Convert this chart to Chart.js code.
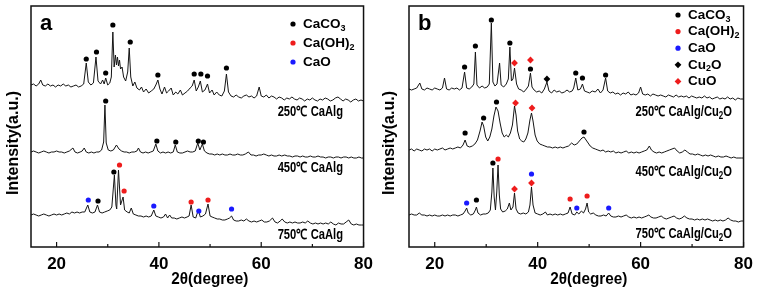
<!DOCTYPE html>
<html>
<head>
<meta charset="utf-8">
<script src="https://cdn.jsdelivr.net/npm/chart.js@4"></script>
<style>
  body { margin: 0; background: #fff; }
  #wrap { position: relative; width: 760px; height: 292px; }
  .panel { position: absolute; top: 0; width: 380px; height: 292px; }
</style>
</head>
<body>
<div id="wrap">
  <div class="panel" style="left:0"><canvas id="chartA" width="380" height="292"></canvas></div>
  <div class="panel" style="left:380px"><canvas id="chartB" width="380" height="292"></canvas></div>
</div>
<script>
// x axis ticks (2θ)
const xTicks = [20, 40, 60, 80];
const xMinorTicks = [30, 50, 70];

// panel a: CaAlg patterns, [2θ, intensity (stacked, a.u.)]
const a250 = [[15,162],[15.5,163],[16,161],[16.5,163],[16.9,167],[17.3,162],[17.8,161],[18.3,163],[18.8,161],[19.3,162],[19.8,160],[20.3,162],[20.8,161],[21.3,163],[21.8,161],[22.3,162],[22.8,160],[23.3,161],[23.8,162],[24.3,160],[24.8,161],[25.3,163],[25.8,184],[26.2,165],[26.7,162],[27.2,164],[27.7,190],[28.1,166],[28.6,163],[29.0,167],[29.3,163],[29.6,169],[30.0,162],[30.4,164],[30.7,170],[31.0,215],[31.25,180],[31.5,192],[31.7,182],[31.9,190],[32.1,181],[32.3,187],[32.5,178],[32.8,180],[33.1,170],[33.5,166],[33.9,175],[34.2,199],[34.5,170],[34.9,161],[35.3,165],[35.7,159],[36.2,157],[36.6,160],[37.0,155],[37.5,158],[38.0,154],[38.5,156],[39.0,158],[39.4,162],[39.8,167],[40.2,158],[40.6,153],[41.1,160],[41.5,154],[41.9,156],[42.4,159],[42.8,152],[43.3,155],[43.7,153],[44.2,157],[44.6,152],[45.1,154],[45.6,156],[46.1,159],[46.5,161],[46.9,167],[47.3,156],[47.7,160],[48.1,166],[48.5,155],[49.0,157],[49.5,163],[49.9,154],[50.4,157],[50.8,152],[51.3,155],[51.8,152],[52.3,151],[52.8,156],[53.2,173],[53.6,155],[54.1,151],[54.6,150],[55.1,152],[55.6,150],[56.1,149],[56.6,151],[57.1,152],[57.6,150],[58.1,151],[58.6,149],[59.1,151],[59.6,160],[60.0,151],[60.5,150],[61.0,152],[61.5,149],[62.0,151],[62.5,150],[63.0,148],[63.5,150],[64.0,149],[64.5,147],[65.0,149],[65.5,148],[66.0,150],[66.5,148],[67.0,147],[67.5,149],[68.0,148],[68.5,146],[69.0,148],[69.5,147],[70.0,149],[70.5,147],[71.0,146],[71.5,148],[72.0,147],[72.5,149],[73.0,148],[73.5,146],[74.0,147],[74.5,149],[75.0,150],[75.5,148],[76.0,146],[76.5,148],[77.0,147],[77.5,145],[78.0,147],[78.5,148],[79.0,146],[79.5,147],[80.0,146]];
const a450 = [[15,95],[15.5,96],[16,95],[16.5,94],[17,95],[17.5,96],[18,95],[18.5,94],[19,95],[19.5,95],[20,96],[20.5,95],[21,95],[21.5,94],[22,95],[22.5,96],[23.2,99],[23.6,95],[24.1,94],[24.6,95],[25.0,96],[25.4,99],[25.8,95],[26.3,94],[26.8,95],[27.3,94],[27.8,95],[28.3,95],[28.8,97],[29.2,105],[29.45,142],[29.7,104],[30.1,97],[30.6,96],[31.1,97],[31.7,102],[32.2,98],[32.7,96],[33.2,95],[33.7,95],[34.2,94],[34.7,95],[35.2,95],[35.7,96],[36.0,99],[36.4,95],[36.9,94],[37.4,95],[37.9,94],[38.4,95],[38.9,96],[39.4,103],[39.8,96],[40.3,94],[40.8,95],[41.3,94],[41.8,95],[42.3,94],[42.8,95],[43.2,102],[43.6,95],[44.1,94],[44.6,94],[45.1,95],[45.6,96],[46.1,95],[46.6,95],[47.1,96],[47.6,104],[48.0,97],[48.5,103],[48.9,96],[49.4,94],[49.9,93],[50.4,93],[50.9,92],[51.4,93],[51.9,92],[52.4,93],[52.9,92],[53.4,92],[53.9,93],[54.4,92],[54.9,92],[55.4,93],[55.9,92],[56.4,92],[56.9,93],[57.5,95],[58.0,92],[58.5,92],[59.0,91],[59.5,92],[60.0,92],[60.5,93],[61.0,92],[61.5,91],[62.0,92],[62.5,91],[63.0,91],[63.5,92],[64.0,91],[64.6,92],[65.1,91],[65.6,91],[66.1,90],[66.6,91],[67.1,91],[67.6,90],[68.1,91],[68.6,90],[69.1,90],[69.6,91],[70.1,90],[70.6,90],[71.1,91],[71.6,90],[72.1,90],[72.6,89],[73.1,90],[73.6,90],[74.1,89],[74.6,90],[75.1,90],[75.6,89],[76.1,90],[76.6,90],[77.1,89],[77.6,90],[78.1,89],[78.6,89],[79.1,90],[79.6,89],[80,89]];
const a750 = [[15,32],[15.5,33],[16,32],[16.5,31],[17,32],[17.5,33],[18,32],[18.5,31],[19,32],[19.5,33],[20,32],[20.5,33],[21,32],[21.5,33],[22,34],[22.5,33],[23,35],[23.5,34],[24,35],[24.5,34],[25,35],[25.5,35],[26.1,42],[26.5,35],[27,34],[27.5,35],[28.0,42],[28.4,35],[28.9,34],[29.4,35],[29.9,36],[30.4,37],[30.8,40],[31.3,72],[31.6,42],[31.75,38],[32.1,77],[32.5,42],[33.0,50],[33.3,37],[33.8,35],[34.2,34],[34.6,39],[35.0,33],[35.5,32],[36.0,31],[36.5,31],[37.0,30],[37.5,31],[38.0,30],[38.5,31],[39.0,37],[39.4,31],[39.9,30],[40.4,29],[40.9,30],[41.3,33],[41.7,29],[42.1,32],[42.5,29],[43.0,29],[43.5,28],[44.0,29],[44.5,30],[45.0,29],[45.5,30],[45.9,31],[46.3,42],[46.7,30],[47.2,29],[47.7,37],[48.1,30],[48.6,31],[49.1,33],[49.6,43],[50.0,31],[50.4,30],[50.9,29],[51.4,28],[51.9,28],[52.4,27],[52.9,27],[53.4,28],[53.8,29],[54.2,31],[54.6,27],[55.1,26],[55.6,26],[56.1,27],[56.6,26],[57.1,28],[57.6,26],[58.1,25],[58.6,26],[59.1,25],[59.6,26],[60.1,27],[60.6,25],[61.1,25],[61.6,26],[62.2,29],[62.7,25],[63.2,24],[63.7,26],[64.1,28],[64.6,25],[65.1,24],[65.6,25],[66.1,24],[66.6,25],[67.1,24],[67.6,24],[68.1,25],[68.6,24],[69.1,26],[69.6,24],[70.1,23],[70.6,24],[71.1,23],[71.6,24],[72.1,23],[72.6,24],[73.1,23],[73.6,25],[74.1,23],[74.6,22],[75.1,24],[75.6,23],[76.1,23],[76.6,25],[77.1,27],[77.6,23],[78.1,22],[78.6,23],[79.1,22],[79.6,22],[80,22]];

// panel a phase markers
const aCaCO3 = [[25.8,188],[27.8,195],[29.6,174],[31.0,222],[34.4,205],[39.8,172],[46.9,173],[48.2,173],[49.5,171],[53.2,179],[29.6,146],[39.6,106],[43.3,105],[47.7,106],[48.7,105],[28.1,46],[31.2,75]];
const aCaOH2 = [[32.3,82],[33.2,56],[46.3,45],[49.6,47]];
const aCaO = [[26.2,47],[39.0,41],[47.8,36],[54.2,38]];

// panel b: CaAlg/Cu2O patterns
const b250 = [[15,158],[15.5,157],[16,158],[16.5,159],[17.1,164],[17.5,158],[18,157],[18.5,159],[19,158],[19.5,157],[20,159],[20.5,158],[21,157],[21.5,159],[21.9,169],[22.3,158],[22.8,157],[23.3,159],[23.8,158],[24.3,159],[24.8,157],[25.3,159],[25.8,175],[26.2,159],[26.7,158],[27.2,160],[27.6,163],[27.9,195],[28.2,162],[28.7,159],[29.2,161],[29.7,159],[30.2,160],[30.6,163],[31.0,224],[31.3,165],[31.7,161],[32.1,163],[32.6,184],[32.9,162],[33.4,160],[33.9,163],[34.3,168],[34.6,200],[34.9,166],[35.2,168],[35.5,179],[35.9,163],[36.3,158],[36.8,157],[37.3,155],[37.8,158],[38.2,161],[38.6,174],[38.9,160],[39.3,157],[39.8,155],[40.3,156],[40.8,154],[41.3,158],[41.8,165],[42.2,156],[42.7,154],[43.2,157],[43.7,155],[44.2,156],[44.7,154],[45.2,155],[45.7,157],[46.2,155],[46.7,156],[47.0,159],[47.4,169],[47.8,157],[48.3,158],[48.7,163],[49.1,156],[49.6,155],[50.1,154],[50.6,156],[51.2,155],[51.7,158],[52.2,154],[52.7,157],[53.2,169],[53.6,156],[54.1,154],[54.6,155],[55.1,153],[55.6,154],[56.1,152],[56.6,154],[57.1,153],[57.6,155],[58.1,152],[58.6,153],[59.1,152],[59.6,154],[60.0,160],[60.4,153],[60.9,152],[61.4,153],[61.9,151],[62.4,153],[62.9,152],[63.4,151],[63.9,152],[64.4,151],[64.9,150],[65.4,152],[65.9,151],[66.4,150],[66.9,152],[67.4,150],[67.9,151],[68.4,150],[68.9,151],[69.4,149],[69.9,151],[70.4,150],[70.9,149],[71.4,150],[71.9,149],[72.4,151],[72.9,149],[73.4,150],[73.9,148],[74.4,149],[74.9,150],[75.4,148],[75.9,149],[76.4,148],[76.9,150],[77.4,148],[77.9,149],[78.4,147],[78.9,149],[79.4,148],[80,148]];
const b450 = [[15,97],[15.5,98],[16,96],[16.5,98],[17,97],[17.5,96],[18,98],[18.5,97],[19,98],[19.5,96],[20,98],[20.5,97],[21,98],[21.5,99],[22,97],[22.5,98],[23,99],[23.5,98],[24,99],[24.5,100],[25.0,99],[25.5,102],[25.9,107],[26.3,101],[26.8,100],[27.3,101],[27.8,103],[28.3,107],[28.8,116],[29.2,125],[29.5,121],[29.9,110],[30.3,106],[30.7,110],[31.1,118],[31.5,131],[31.9,140],[32.3,136],[32.7,124],[33.1,114],[33.5,110],[33.9,112],[34.3,110],[34.7,114],[35.1,122],[35.5,141],[35.8,132],[36.1,116],[36.5,108],[36.9,106],[37.3,105],[37.7,108],[38.1,114],[38.5,127],[38.8,134],[39.1,126],[39.5,112],[39.9,106],[40.4,103],[40.9,102],[41.4,101],[41.9,100],[42.4,100],[42.9,99],[43.4,100],[43.9,99],[44.4,100],[44.9,99],[45.4,100],[46.0,101],[46.6,104],[47.1,102],[47.6,103],[48.1,106],[48.6,109],[49.0,110],[49.4,107],[49.8,104],[50.2,101],[50.7,99],[51.2,98],[51.7,97],[52.2,96],[52.7,97],[53.2,95],[53.7,96],[54.2,95],[54.7,96],[55.2,94],[55.7,95],[56.2,94],[56.7,95],[57.2,96],[57.7,94],[58.2,95],[58.7,94],[59.2,95],[59.7,94],[60.2,95],[60.7,96],[61.2,97],[61.7,101],[62.1,97],[62.6,95],[63.1,94],[63.6,95],[64.1,94],[64.6,95],[65.1,96],[65.6,97],[66.1,98],[66.6,99],[67.1,96],[67.6,94],[68.1,95],[68.6,97],[69.1,95],[69.6,93],[70.1,93],[70.6,92],[71.1,93],[71.6,92],[72.1,91],[72.6,92],[73.1,91],[73.6,92],[74.1,91],[74.6,90],[75.1,91],[75.6,90],[76.1,90],[76.6,91],[77.1,90],[77.6,89],[78.1,90],[78.6,89],[79.1,89],[79.6,89],[80,89]];
const b750 = [[15,32],[15.5,33],[16,32],[16.5,32],[17.0,34],[17.5,32],[18,32],[18.5,31],[19,32],[19.5,31],[20,32],[20.5,31],[21,31],[21.5,32],[22,31],[22.5,32],[23,31],[23.5,32],[24,32],[24.5,31],[25,32],[25.5,33],[25.9,36],[26.2,39],[26.5,34],[27,32],[27.5,33],[27.9,37],[28.1,40],[28.4,34],[28.9,32],[29.4,33],[29.9,33],[30.4,34],[30.8,37],[31.1,55],[31.3,79],[31.55,50],[31.8,37],[32.05,55],[32.3,82],[32.55,52],[32.8,38],[33.2,35],[33.7,36],[34.1,38],[34.5,44],[34.8,37],[35.2,40],[35.5,54],[35.8,38],[36.2,34],[36.7,33],[37.2,34],[37.7,33],[38.2,35],[38.5,42],[38.8,60],[39.1,42],[39.5,34],[40,33],[40.5,32],[41.0,33],[41.5,35],[41.9,32],[42.4,33],[42.9,32],[43.4,33],[43.9,32],[44.4,33],[44.9,32],[45.4,33],[45.9,34],[46.3,40],[46.7,33],[47.2,32],[47.6,35],[48.0,33],[48.5,36],[48.9,34],[49.3,38],[49.6,44],[49.9,35],[50.3,33],[50.8,34],[51.3,32],[51.8,31],[52.3,31],[52.8,32],[53.3,31],[53.8,34],[54.2,31],[54.7,30],[55.2,30],[55.7,31],[56.2,30],[56.7,31],[57.2,32],[57.7,30],[58.2,29],[58.7,30],[59.2,29],[59.7,30],[60.2,29],[60.7,30],[61.2,31],[61.6,32],[62.0,30],[62.5,29],[63.0,29],[63.5,30],[64.0,31],[64.5,29],[65.0,28],[65.5,29],[66.0,30],[66.5,31],[67.0,29],[67.5,28],[68.0,29],[68.5,31],[69.0,29],[69.5,28],[70.0,28],[70.5,27],[71.0,28],[71.5,27],[72.0,28],[72.5,27],[73.0,28],[73.5,27],[74.0,26],[74.5,27],[75.0,26],[75.5,27],[76.0,26],[76.5,27],[77.0,29],[77.5,27],[78.0,26],[78.5,26],[79.0,25],[79.5,26],[80,26]];

// panel b phase markers
const bCaCO3 = [[25.8,180],[27.9,201],[31.0,227],[34.6,204],[38.6,178],[47.4,174],[48.7,169],[53.2,172],[25.9,114],[29.5,129],[32.0,145],[49.0,115],[28.1,47],[31.3,84]];
const bCaOH2 = [[32.3,88],[46.3,48],[49.6,51]];
const bCaO = [[26.2,44],[38.8,73],[47.6,39],[53.8,39]];
const bCu2O = [[41.8,168]];
const bCuO = [[35.5,184],[38.6,187],[35.7,144],[38.9,139],[35.5,58],[38.8,64]];

// text: [main, subscript, tail]
const phasesA = [['CaCO', '3', ''], ['Ca(OH)', '2', ''], ['CaO', '', '']];
const phasesB = [['CaCO', '3', ''], ['Ca(OH)', '2', ''], ['CaO', '', ''], ['Cu', '2', 'O'], ['CuO', '', '']];
const curveLabelsA = [['250℃ CaAlg', '', ''], ['450℃ CaAlg', '', ''], ['750℃ CaAlg', '', '']];
const curveLabelsB = [['250℃ CaAlg/Cu', '2', 'O'], ['450℃ CaAlg/Cu', '2', 'O'], ['750℃ CaAlg/Cu', '2', 'O']];
const xTitle = '2θ(degree)';
const yTitle = 'Intensity(a.u.)';

const FONT = "'Liberation Sans', Arial, sans-serif";
const RED = '#ee1c1c';
const BLUE = '#1a1aff';

function pts(arr) {
  return arr.map(p => ({ x: p[0], y: p[1] }));
}

// draws main/subscript/tail text, squeezed horizontally by sx
function drawRich(ctx, parts, x, y, size, align, sx) {
  const main = 'bold ' + size + 'px ' + FONT;
  const sub = 'bold ' + Math.round(size * 0.68) + 'px ' + FONT;
  const segs = [[parts[0], main, 0], [parts[1], sub, size * 0.3], [parts[2], main, 0]];
  let w = 0;
  segs.forEach(s => { ctx.font = s[1]; w += ctx.measureText(s[0]).width; });
  ctx.save();
  ctx.translate(x, y);
  ctx.scale(sx, 1);
  let cx = align === 'right' ? -w : (align === 'center' ? -w / 2 : 0);
  ctx.textAlign = 'left';
  ctx.textBaseline = 'middle';
  segs.forEach(s => {
    ctx.font = s[1];
    ctx.fillText(s[0], cx, s[2]);
    cx += ctx.measureText(s[0]).width;
  });
  ctx.restore();
}

function marker(ctx, style, color, x, y) {
  ctx.fillStyle = color;
  ctx.beginPath();
  if (style === 'circle') {
    ctx.arc(x, y, 2.6, 0, Math.PI * 2);
  } else {
    ctx.moveTo(x, y - 3.4); ctx.lineTo(x + 3.4, y); ctx.lineTo(x, y + 3.4); ctx.lineTo(x - 3.4, y);
    ctx.closePath();
  }
  ctx.fill();
}

// frame, inward ticks, legend and annotations
const decor = {
  id: 'decor',
  afterDraw(chart, args, o) {
    const { ctx, chartArea: a, scales } = chart;
    ctx.save();
    ctx.strokeStyle = '#111';
    ctx.lineWidth = 1.5;
    ctx.strokeRect(a.left, a.top, a.right - a.left, a.bottom - a.top);
    ctx.lineWidth = 1.2;
    xTicks.concat(xMinorTicks).forEach(v => {
      const px = scales.x.getPixelForValue(v);
      const len = xTicks.includes(v) ? 5 : 3;
      ctx.beginPath(); ctx.moveTo(px, a.bottom); ctx.lineTo(px, a.bottom - len); ctx.stroke();
    });
    ctx.fillStyle = '#000';
    ctx.font = 'bold 22px ' + FONT;
    ctx.textAlign = 'left'; ctx.textBaseline = 'alphabetic';
    ctx.fillText(o.letter, a.left + 9, 30);

    // axis titles
    drawRich(ctx, [xTitle, '', ''], (a.left + a.right) / 2 + 12.5, 279, 17, 'center', 0.9);
    ctx.save();
    ctx.translate(o.yTitleX, 143);
    ctx.rotate(-Math.PI / 2);
    ctx.font = 'bold 16px ' + FONT;
    ctx.textAlign = 'center'; ctx.textBaseline = 'middle';
    ctx.fillText(yTitle, 0, 0);
    ctx.restore();

    o.legend.forEach((item, i) => {
      const y = o.legendTop + i * o.legendStep;
      marker(ctx, o.styles[i], o.colors[i], o.legendX, y);
      ctx.fillStyle = '#000';
      drawRich(ctx, item, o.legendX + 10, y, 13.5, 'left', 1);
    });
    o.labels.forEach((item, i) => {
      ctx.fillStyle = '#000';
      drawRich(ctx, item, o.labelRight, o.labelY[i], 14, 'right', 0.8);
    });
    ctx.restore();
  }
};

function traceSet(arr) {
  return { data: pts(arr), showLine: true, borderColor: '#151515', borderWidth: 1, pointRadius: 0, tension: 0, order: 2 };
}
function markSet(arr, color, style, r) {
  return { data: pts(arr), showLine: false, pointStyle: style, pointRadius: r, backgroundColor: color, borderWidth: 0, order: 1 };
}

function makeChart(id, datasets, padL, padR, deco) {
  return new Chart(document.getElementById(id).getContext('2d'), {
    type: 'scatter',
    data: { datasets: datasets },
    options: {
      responsive: false,
      animation: false,
      devicePixelRatio: 1,
      events: [],
      layout: { padding: { left: padL, right: padR, top: 6, bottom: 0 } },
      scales: {
        x: {
          type: 'linear', min: 15, max: 80,
          afterBuildTicks: s => { s.ticks = xTicks.map(v => ({ value: v })); },
          afterFit: s => { s.height = 45; },
          grid: { display: false, drawTicks: false },
          border: { display: false },
          ticks: { color: '#000', padding: 7, maxRotation: 0, autoSkip: false, font: { family: FONT, size: 17, weight: 'bold' } },
          title: { display: false }
        },
        y: { min: 0, max: 241, display: false }
      },
      plugins: { legend: { display: false }, tooltip: { enabled: false }, decor: deco }
    },
    plugins: [decor]
  });
}

document.addEventListener('DOMContentLoaded', function() {
  makeChart('chartA', [
    traceSet(a250), traceSet(a450), traceSet(a750),
    markSet(aCaCO3, '#000', 'circle', 2.6),
    markSet(aCaOH2, RED, 'circle', 2.6),
    markSet(aCaO, BLUE, 'circle', 2.6)
  ], 31, 14, {
    letter: 'a', yTitleX: 14,
    legend: phasesA, styles: ['circle', 'circle', 'circle'], colors: ['#000', RED, BLUE],
    legendX: 293, legendTop: 24, legendStep: 19,
    labels: curveLabelsA, labelRight: 343, labelY: [112, 168, 235]
  });

  makeChart('chartB', [
    traceSet(b250), traceSet(b450), traceSet(b750),
    markSet(bCaCO3, '#000', 'circle', 2.6),
    markSet(bCaOH2, RED, 'circle', 2.6),
    markSet(bCaO, BLUE, 'circle', 2.6),
    markSet(bCu2O, '#000', 'rectRot', 3.4),
    markSet(bCuO, RED, 'rectRot', 3.4)
  ], 29, 13, {
    letter: 'b', yTitleX: 10,
    legend: phasesB, styles: ['circle', 'circle', 'circle', 'diamond', 'diamond'], colors: ['#000', RED, BLUE, '#000', RED],
    legendX: 298, legendTop: 15, legendStep: 16.6,
    labels: curveLabelsB, labelRight: 352, labelY: [112, 172, 234]
  });
});
</script>
</body>
</html>
